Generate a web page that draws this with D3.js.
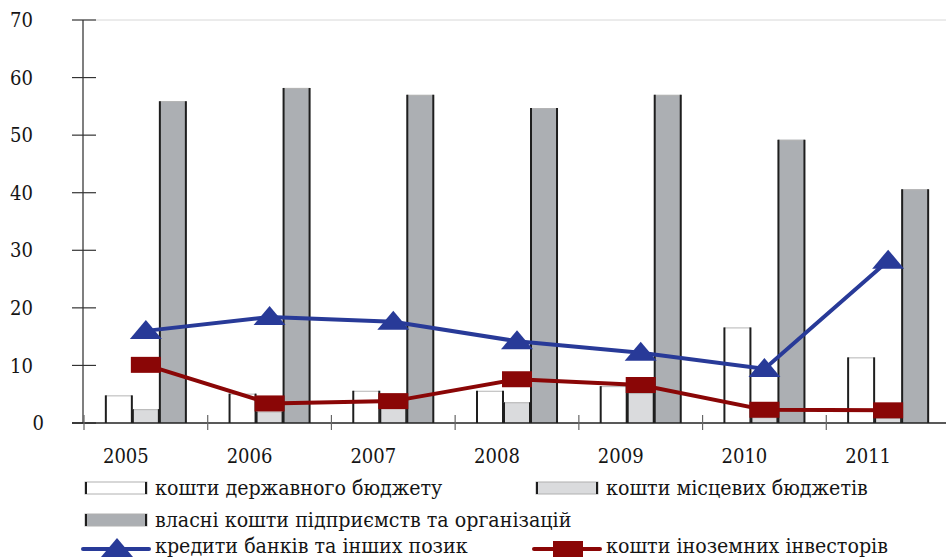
<!DOCTYPE html>
<html>
<head>
<meta charset="utf-8">
<script src="https://cdn.jsdelivr.net/npm/d3@7"></script>
<style>
  body { margin: 0; background: #fff; }
  svg { display: block; font-family: "DejaVu Serif Condensed", "DejaVu Serif", serif; font-stretch: condensed; }
  .tick-label { font-size: 20px; fill: #151515; }
  .legend-label { font-size: 21.2px; fill: #151515; }
</style>
</head>
<body>
<svg id="chart" width="946" height="558" viewBox="0 0 946 558"></svg>
<script>
const years = ["2005", "2006", "2007", "2008", "2009", "2010", "2011"];
const stateBudget = [4.8, 5.1, 5.6, 5.6, 6.4, 16.6, 11.4];
const localBudgets = [2.4, 2.0, 2.7, 3.6, 5.2, 1.0, 0.9];
const ownFunds = [55.9, 58.2, 57.0, 54.7, 57.0, 49.2, 40.6];
const bankCredits = [16.0, 18.4, 17.6, 14.2, 12.2, 9.4, 28.2];
const foreignInvestors = [10.1, 3.4, 3.8, 7.6, 6.6, 2.3, 2.2];
const yTickValues = [0, 10, 20, 30, 40, 50, 60, 70];

const barSeries = [
  { key: "state", name: "кошти державного бюджету", values: stateBudget, fill: "#ffffff" },
  { key: "local", name: "кошти місцевих бюджетів", values: localBudgets, fill: "#dadbdd" },
  { key: "own", name: "власні кошти підприємств та організацій", values: ownFunds, fill: "#acafb3" }
];
const lineSeries = [
  { key: "foreign", name: "кошти іноземних інвесторів", values: foreignInvestors, color: "#8a0606", marker: "square" },
  { key: "banks", name: "кредити банків та інших позик", values: bankCredits, color: "#283a98", marker: "triangle" }
];

function drawChart(svg) {
  const root = d3.select(svg);
  const margin = { top: 20, left: 84, right: -4, bottom: 135 };
  const width = 946;
  const height = 558;
  const axisX = 83;

  const xScale = d3.scaleBand()
    .domain(years)
    .range([margin.left, width - margin.right])
    .padding(0);
  const subScale = d3.scaleBand()
    .domain(barSeries.map(s => s.key))
    .range([0, xScale.bandwidth()])
    .paddingInner(0)
    .paddingOuter(0.79);
  const yScale = d3.scaleLinear()
    .domain([0, 70])
    .range([height - margin.bottom, margin.top]);

  // gridline at the top value only
  root.append("line")
    .attr("x1", axisX + 13)
    .attr("x2", width)
    .attr("y1", yScale(70))
    .attr("y2", yScale(70))
    .attr("stroke", "#d8d8d8")
    .attr("stroke-width", 1);

  // bars
  const barGroup = root.append("g");
  barSeries.forEach(series => {
    const g = barGroup.append("g");
    const items = years.map((year, i) => ({ year, value: series.values[i] }));
    const bx = d => xScale(d.year) + subScale(series.key);
    const bw = subScale.bandwidth();
    g.selectAll("rect")
      .data(items)
      .join("rect")
      .attr("x", bx)
      .attr("y", d => yScale(d.value))
      .attr("width", bw)
      .attr("height", d => yScale(0) - yScale(d.value))
      .attr("fill", series.fill);
    g.selectAll("line.top")
      .data(items)
      .join("line")
      .attr("class", "top")
      .attr("x1", bx)
      .attr("x2", d => bx(d) + bw)
      .attr("y1", d => yScale(d.value) + 0.5)
      .attr("y2", d => yScale(d.value) + 0.5)
      .attr("stroke", "#b5b5b5")
      .attr("stroke-width", 1);
    g.selectAll("line.left")
      .data(items)
      .join("line")
      .attr("class", "left")
      .attr("x1", d => bx(d) + 0.5)
      .attr("x2", d => bx(d) + 0.5)
      .attr("y1", d => yScale(d.value))
      .attr("y2", yScale(0))
      .attr("stroke", "#1e1e1e")
      .attr("stroke-width", 2);
    g.selectAll("line.right")
      .data(items)
      .join("line")
      .attr("class", "right")
      .attr("x1", d => bx(d) + bw - 0.5)
      .attr("x2", d => bx(d) + bw - 0.5)
      .attr("y1", d => yScale(d.value))
      .attr("y2", yScale(0))
      .attr("stroke", "#1e1e1e")
      .attr("stroke-width", 2);
  });

  // y axis
  root.append("line")
    .attr("x1", axisX)
    .attr("x2", axisX)
    .attr("y1", yScale(70))
    .attr("y2", yScale(0))
    .attr("stroke", "#555")
    .attr("stroke-width", 1.5);
  root.append("g")
    .selectAll("line")
    .data(yTickValues)
    .join("line")
    .attr("x1", axisX - 11)
    .attr("x2", axisX + 13)
    .attr("y1", d => yScale(d))
    .attr("y2", d => yScale(d))
    .attr("stroke", "#333")
    .attr("stroke-width", 1.2);
  root.append("g")
    .selectAll("text")
    .data(yTickValues)
    .join("text")
    .attr("class", "tick-label")
    .attr("x", d => d === 0 ? 44 : 33)
    .attr("y", d => yScale(d))
    .attr("dy", "0.36em")
    .attr("text-anchor", "end")
    .text(d => d);

  // x axis
  root.append("line")
    .attr("x1", axisX - 11)
    .attr("x2", width)
    .attr("y1", yScale(0))
    .attr("y2", yScale(0))
    .attr("stroke", "#222")
    .attr("stroke-width", 1.5);
  root.append("g")
    .selectAll("line")
    .data(years)
    .join("line")
    .attr("x1", d => xScale(d))
    .attr("x2", d => xScale(d))
    .attr("y1", yScale(0) - 8)
    .attr("y2", yScale(0) + 7)
    .attr("stroke", "#666")
    .attr("stroke-width", 1.2);
  // year labels sit a little left of the category centre in the original
  root.append("g")
    .selectAll("text")
    .data(years)
    .join("text")
    .attr("class", "tick-label")
    .attr("x", d => xScale(d) + xScale.bandwidth() / 2 - 20)
    .attr("y", 463)
    .attr("text-anchor", "middle")
    .text(d => d);

  // lines with markers
  const line = d3.line()
    .x(d => xScale(d.year) + xScale.bandwidth() / 2)
    .y(d => yScale(d.value));
  lineSeries.forEach(series => {
    const items = years.map((year, i) => ({ year, value: series.values[i] }));
    root.append("path")
      .attr("d", line(items))
      .attr("fill", "none")
      .attr("stroke", series.color)
      .attr("stroke-width", 4);
    root.append("g")
      .selectAll("path")
      .data(items)
      .join("path")
      .attr("d", d => markerPath(series.marker,
        xScale(d.year) + xScale.bandwidth() / 2, yScale(d.value)))
      .attr("fill", series.color);
  });

  drawLegend(root);
}

function markerPath(type, cx, cy) {
  if (type === "triangle") {
    return `M${cx},${cy - 11} L${cx + 16},${cy + 8} L${cx - 16},${cy + 8} Z`;
  }
  return `M${cx - 15},${cy - 8} H${cx + 15} V${cy + 8} H${cx - 15} Z`;
}

function drawLegend(root) {
  const legend = root.append("g");
  const swatchItems = [
    { series: barSeries[0], x: 85, y: 488 },
    { series: barSeries[1], x: 536, y: 488 },
    { series: barSeries[2], x: 85, y: 520 }
  ];
  swatchItems.forEach(item => {
    legend.append("rect")
      .attr("x", item.x)
      .attr("y", item.y - 6)
      .attr("width", 62)
      .attr("height", 12)
      .attr("fill", item.series.fill)
      .attr("stroke", "#b0b0b0")
      .attr("stroke-width", 1);
    [item.x + 1, item.x + 61].forEach(ex => {
      legend.append("line")
        .attr("x1", ex).attr("x2", ex)
        .attr("y1", item.y - 6).attr("y2", item.y + 6)
        .attr("stroke", "#1e1e1e")
        .attr("stroke-width", 2);
    });
    legend.append("text")
      .attr("class", "legend-label")
      .attr("x", item.x + 70)
      .attr("y", item.y + 7)
      .text(item.series.name);
  });

  const lineItems = [
    { series: lineSeries[1], x: 83, y: 549 },
    { series: lineSeries[0], x: 534, y: 549 }
  ];
  lineItems.forEach(item => {
    legend.append("line")
      .attr("x1", item.x)
      .attr("x2", item.x + 66)
      .attr("y1", item.y)
      .attr("y2", item.y)
      .attr("stroke", item.series.color)
      .attr("stroke-width", 4)
      .attr("stroke-linecap", "round");
    legend.append("path")
      .attr("d", markerPath(item.series.marker, item.x + 34, item.y))
      .attr("fill", item.series.color);
    legend.append("text")
      .attr("class", "legend-label")
      .attr("x", item.x + 72)
      .attr("y", item.y + 4)
      .text(item.series.name);
  });
}

drawChart(document.getElementById("chart"));
</script>
</body>
</html>
